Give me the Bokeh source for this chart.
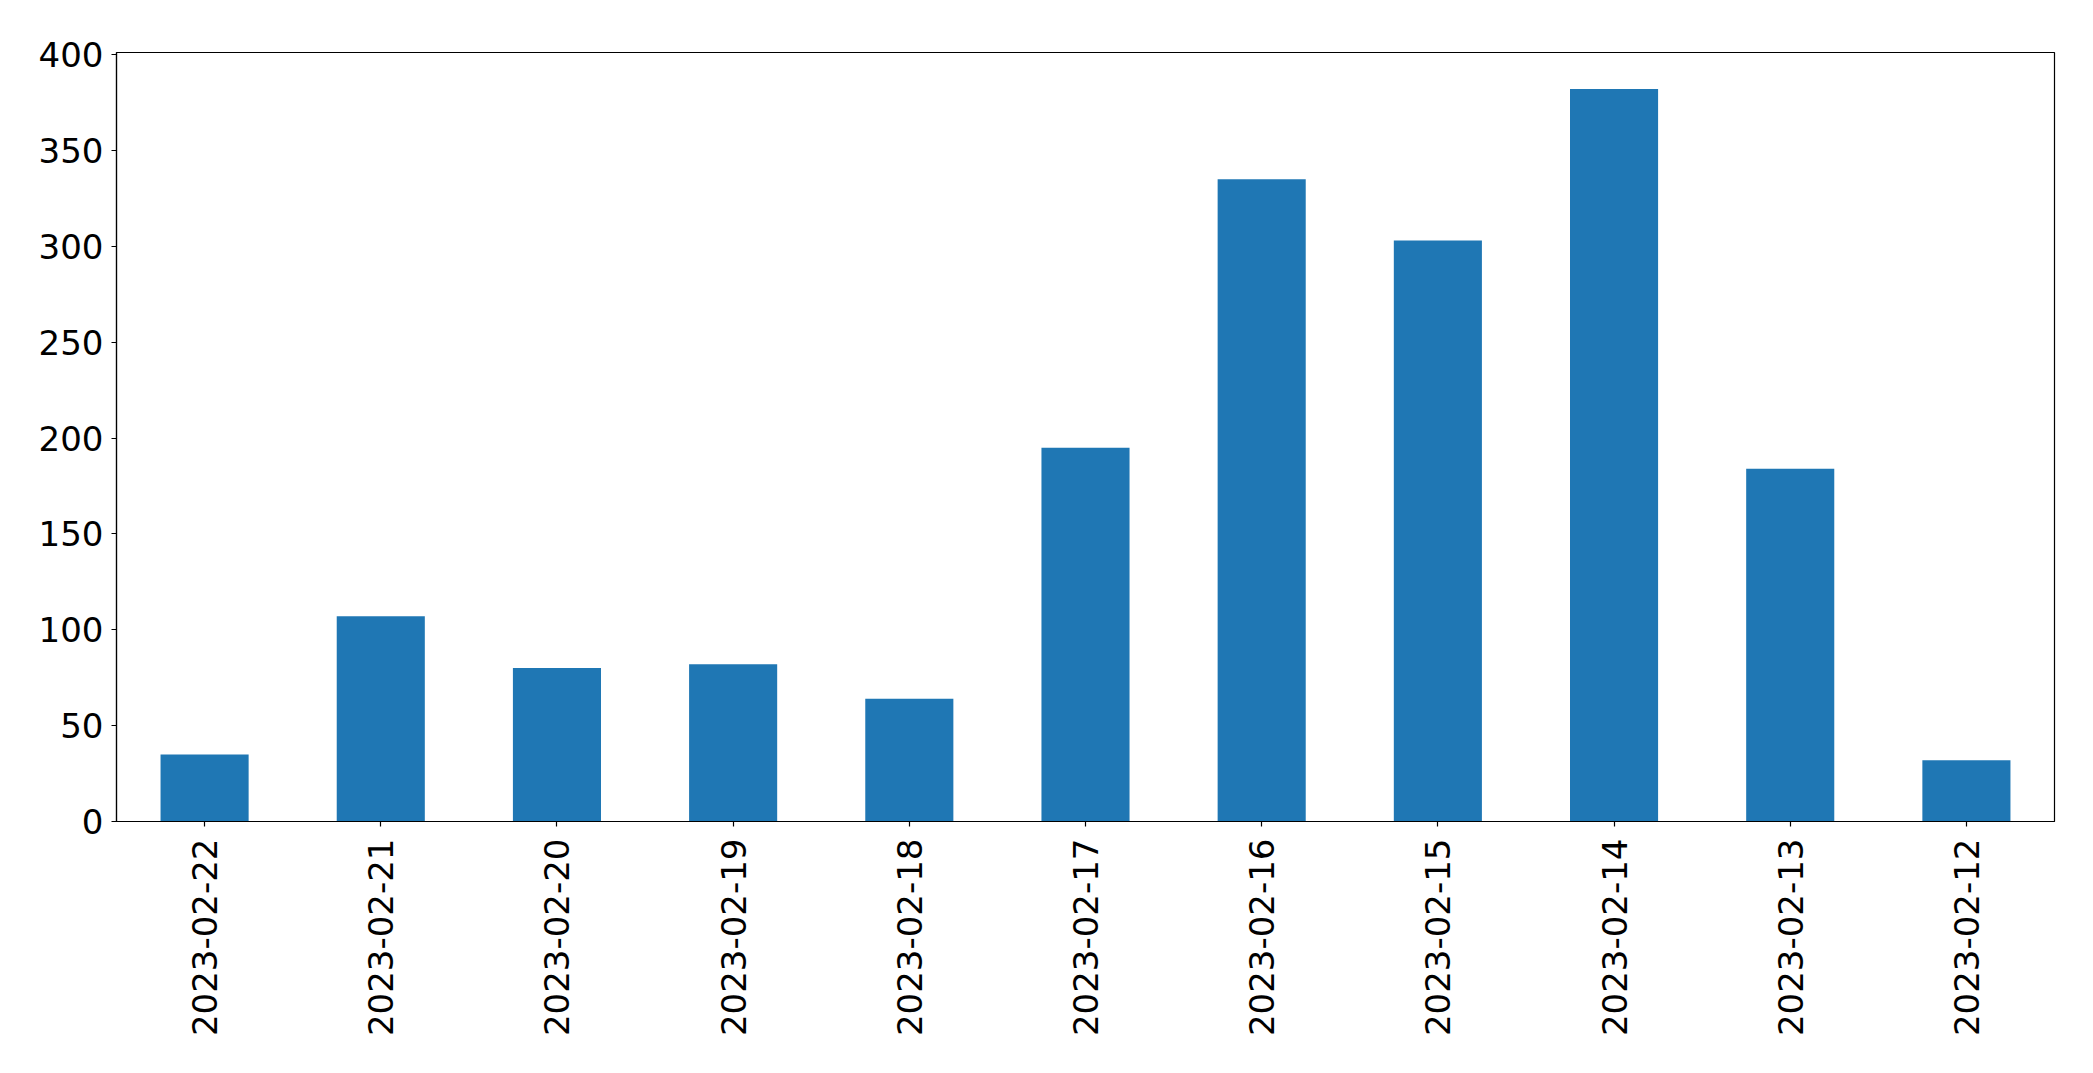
import math
from bokeh.plotting import figure
from bokeh.models import FactorRange, Range1d, FixedTicker, ColumnDataSource
from bokeh.embed import file_html
from bokeh.resources import INLINE

dates = ["2023-02-22", "2023-02-21", "2023-02-20", "2023-02-19", "2023-02-18",
         "2023-02-17", "2023-02-16", "2023-02-15", "2023-02-14", "2023-02-13",
         "2023-02-12"]
counts = [35, 107, 80, 82, 64, 195, 335, 303, 382, 184, 32]
y_ticks = [0, 50, 100, 150, 200, 250, 300, 350, 400]

src = ColumnDataSource(dict(date=dates, count=counts))

p = figure(width=2093, height=1073, output_backend="svg", toolbar_location=None,
           x_range=FactorRange(*dates, range_padding=0),
           y_range=Range1d(0, max(counts) * 1.05))
p.min_border_left = 116
p.min_border_right = 39
p.min_border_top = 52
p.min_border_bottom = 252

p.vbar(x="date", top="count", width=0.5, source=src, fill_color="#1f77b4",
       line_color=None)

p.xgrid.visible = False
p.ygrid.visible = False
p.outline_line_color = "black"
p.outline_line_width = 1.2
p.background_fill_color = "white"
p.border_fill_color = "white"

for ax in (p.xaxis, p.yaxis):
    ax.axis_line_color = "black"
    ax.axis_line_width = 1.2
    ax.major_tick_line_color = "black"
    ax.major_tick_line_width = 1.2
    ax.major_tick_out = 5
    ax.major_tick_in = 0
    ax.minor_tick_line_color = None
    ax.major_label_text_font = "DejaVu Sans"
    ax.major_label_text_font_size = "34px"
    ax.major_label_text_color = "black"

p.yaxis.ticker = FixedTicker(ticks=y_ticks)
p.yaxis.major_label_standoff = 8
p.xaxis.major_label_orientation = math.pi / 2
p.xaxis.major_label_standoff = 12

open("out.html", "w").write(file_html(p, INLINE))
